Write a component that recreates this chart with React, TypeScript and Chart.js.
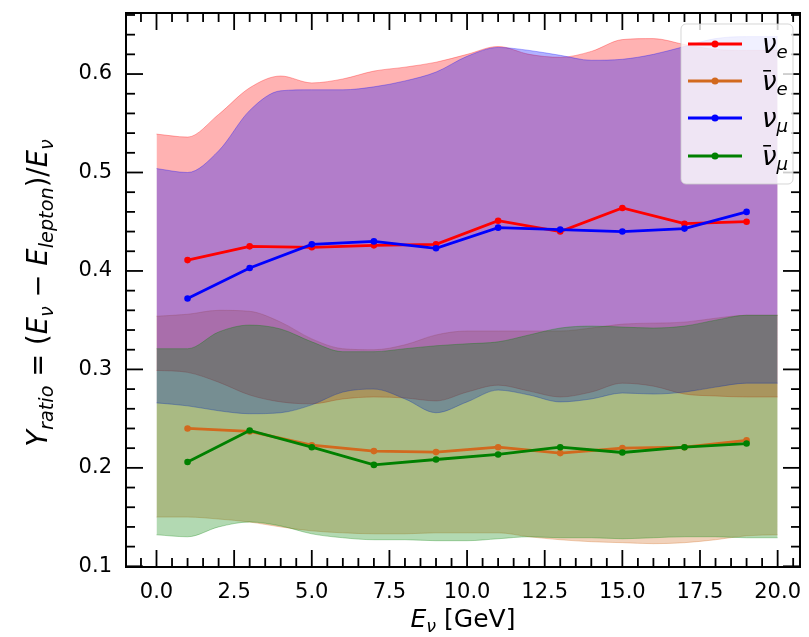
import React, { useEffect, useRef } from 'react';
import { Chart, registerables } from 'chart.js';

Chart.register(...registerables);

// Mean inelasticity per energy bin
const energies = [1, 3, 5, 7, 9, 11, 13, 15, 17, 19];
const nueRatio = [0.411, 0.425, 0.424, 0.426, 0.427, 0.451, 0.440, 0.464, 0.448, 0.450];
const nuebarRatio = [0.240, 0.237, 0.223, 0.217, 0.216, 0.221, 0.215, 0.220, 0.221, 0.228];
const numuRatio = [0.372, 0.403, 0.427, 0.430, 0.423, 0.444, 0.442, 0.440, 0.443, 0.460];
const numubarRatio = [0.206, 0.238, 0.221, 0.203, 0.2085, 0.2136, 0.221, 0.2156, 0.221, 0.2247];

// Spread bands (smoothed envelopes)
const bandEnergies = [0, 1, 2, 3, 4, 5, 6, 7, 8, 9, 10, 11, 12, 13, 14, 15, 16, 17, 18, 19, 20];
const nueUpper = [0.539, 0.536, 0.559, 0.586, 0.598, 0.591, 0.595, 0.603, 0.607, 0.612, 0.620, 0.628, 0.620, 0.617, 0.623, 0.635, 0.636, 0.630, 0.625, 0.624, 0.624];
const nueLower = [0.299, 0.297, 0.287, 0.274, 0.267, 0.265, 0.270, 0.272, 0.271, 0.268, 0.277, 0.284, 0.278, 0.272, 0.277, 0.286, 0.283, 0.275, 0.273, 0.272, 0.272];
const nuebarUpper = [0.354, 0.356, 0.360, 0.359, 0.348, 0.331, 0.321, 0.320, 0.325, 0.335, 0.339, 0.339, 0.339, 0.339, 0.342, 0.346, 0.347, 0.348, 0.352, 0.355, 0.355];
const nuebarLower = [0.150, 0.150, 0.148, 0.145, 0.140, 0.136, 0.134, 0.133, 0.133, 0.134, 0.134, 0.134, 0.130, 0.127, 0.125, 0.124, 0.123, 0.124, 0.127, 0.131, 0.132];
const numuUpper = [0.504, 0.500, 0.522, 0.563, 0.583, 0.584, 0.584, 0.587, 0.593, 0.602, 0.618, 0.627, 0.624, 0.619, 0.614, 0.615, 0.620, 0.628, 0.636, 0.638, 0.638];
const numuLower = [0.266, 0.263, 0.258, 0.255, 0.256, 0.264, 0.277, 0.280, 0.270, 0.256, 0.267, 0.279, 0.274, 0.267, 0.270, 0.276, 0.275, 0.277, 0.282, 0.286, 0.286];
const numubarUpper = [0.321, 0.321, 0.338, 0.345, 0.341, 0.328, 0.318, 0.318, 0.321, 0.324, 0.326, 0.328, 0.335, 0.342, 0.344, 0.343, 0.342, 0.344, 0.350, 0.355, 0.355];
const numubarLower = [0.132, 0.130, 0.140, 0.145, 0.141, 0.133, 0.129, 0.127, 0.127, 0.126, 0.126, 0.128, 0.130, 0.129, 0.129, 0.128, 0.129, 0.130, 0.130, 0.129, 0.129];

// Axis ticks
const xTicks = [0, 2.5, 5, 7.5, 10, 12.5, 15, 17.5, 20];
const yTicks = [0.1, 0.2, 0.3, 0.4, 0.5, 0.6];

type Run = { t: string; it?: boolean; sub?: boolean; bar?: boolean };

const FONT = '"DejaVu Sans", sans-serif';

const flavours = [
  { key: 'nue', rgb: [255, 0, 0], mean: nueRatio, upper: nueUpper, lower: nueLower,
    label: [{ t: 'ν', it: true }, { t: 'e', it: true, sub: true }] as Run[] },
  { key: 'nuebar', rgb: [210, 105, 30], mean: nuebarRatio, upper: nuebarUpper, lower: nuebarLower,
    label: [{ t: 'ν', it: true, bar: true }, { t: 'e', it: true, sub: true }] as Run[] },
  { key: 'numu', rgb: [0, 0, 255], mean: numuRatio, upper: numuUpper, lower: numuLower,
    label: [{ t: 'ν', it: true }, { t: 'μ', it: true, sub: true }] as Run[] },
  { key: 'numubar', rgb: [0, 128, 0], mean: numubarRatio, upper: numubarUpper, lower: numubarLower,
    label: [{ t: 'ν', it: true, bar: true }, { t: 'μ', it: true, sub: true }] as Run[] },
];

const yTitle: Run[] = [
  { t: 'Y', it: true }, { t: 'ratio', it: true, sub: true }, { t: ' = ' }, { t: '(' },
  { t: 'E', it: true }, { t: 'ν', it: true, sub: true }, { t: ' − ' },
  { t: 'E', it: true }, { t: 'lepton', it: true, sub: true }, { t: ')' }, { t: '/' },
  { t: 'E', it: true }, { t: 'ν', it: true, sub: true },
];
const xTitle: Run[] = [{ t: 'E', it: true }, { t: 'ν', it: true, sub: true }, { t: ' [GeV]' }];

const rgba = (c: number[], a: number) => `rgba(${c[0]},${c[1]},${c[2]},${a})`;

function runFont(r: Run, size: number) {
  const s = r.sub ? size * 0.7 : size;
  return `${r.it ? 'italic ' : ''}${s}px ${FONT}`;
}

function runsWidth(ctx: CanvasRenderingContext2D, runs: Run[], size: number) {
  let w = 0;
  for (const r of runs) {
    ctx.font = runFont(r, size);
    w += ctx.measureText(r.t).width;
  }
  return w;
}

function drawRuns(ctx: CanvasRenderingContext2D, runs: Run[], x: number, y: number, size: number) {
  let cx = x;
  ctx.textBaseline = 'alphabetic';
  ctx.textAlign = 'left';
  for (const r of runs) {
    ctx.font = runFont(r, size);
    const w = ctx.measureText(r.t).width;
    const dy = r.sub ? size * 0.2 : 0;
    ctx.fillText(r.t, cx, y + dy);
    if (r.bar) {
      ctx.save();
      ctx.lineWidth = size * 0.06;
      ctx.beginPath();
      ctx.moveTo(cx + w * 0.08, y - size * 0.74);
      ctx.lineTo(cx + w * 0.62, y - size * 0.74);
      ctx.stroke();
      ctx.restore();
    }
    cx += w;
  }
}

const MAJOR = 17;
const MINOR = 9;

const decorPlugin = {
  id: 'decor',
  afterDraw(chart: any) {
    const { ctx, chartArea: a, scales } = chart;
    const xs = scales.x;
    const ys = scales.y;
    ctx.save();
    ctx.strokeStyle = '#000';
    ctx.fillStyle = '#000';
    const seg = (x1: number, y1: number, x2: number, y2: number) => {
      ctx.beginPath();
      ctx.moveTo(x1, y1);
      ctx.lineTo(x2, y2);
      ctx.stroke();
    };
    // inward ticks on all four sides
    ctx.lineWidth = 1.8;
    for (const v of xTicks) {
      const p = xs.getPixelForValue(v);
      seg(p, a.bottom, p, a.bottom - MAJOR);
      seg(p, a.top, p, a.top + MAJOR);
    }
    for (let i = -2; i <= 41; i++) {
      const v = i * 0.5;
      if (v < xs.min || v > xs.max || i % 5 === 0) continue;
      const p = xs.getPixelForValue(v);
      seg(p, a.bottom, p, a.bottom - MINOR);
      seg(p, a.top, p, a.top + MINOR);
    }
    for (const v of yTicks) {
      const p = ys.getPixelForValue(v);
      seg(a.left, p, a.left + MAJOR, p);
      seg(a.right, p, a.right - MAJOR, p);
    }
    for (let i = 5; i <= 34; i++) {
      const v = i * 0.02;
      if (v < ys.min || v > ys.max || i % 5 === 0) continue;
      const p = ys.getPixelForValue(v);
      seg(a.left, p, a.left + MINOR, p);
      seg(a.right, p, a.right - MINOR, p);
    }
    ctx.lineWidth = 2;
    ctx.strokeRect(a.left, a.top, a.right - a.left, a.bottom - a.top);

    // axis titles
    const ySize = 27.5;
    const yw = runsWidth(ctx, yTitle, ySize);
    ctx.save();
    ctx.translate(47, 293);
    ctx.rotate(-Math.PI / 2);
    drawRuns(ctx, yTitle, -yw / 2, 0, ySize);
    ctx.restore();

    const xSize = 25;
    const xw = runsWidth(ctx, xTitle, xSize);
    drawRuns(ctx, xTitle, (a.left + a.right) / 2 - xw / 2, 627, xSize);

    // legend
    const lx = 681, ly = 24, lw = 112, lh = 160, rad = 5;
    ctx.beginPath();
    ctx.moveTo(lx + rad, ly);
    ctx.arcTo(lx + lw, ly, lx + lw, ly + lh, rad);
    ctx.arcTo(lx + lw, ly + lh, lx, ly + lh, rad);
    ctx.arcTo(lx, ly + lh, lx, ly, rad);
    ctx.arcTo(lx, ly, lx + lw, ly, rad);
    ctx.closePath();
    ctx.fillStyle = 'rgba(255,255,255,0.8)';
    ctx.fill();
    ctx.strokeStyle = 'rgba(204,204,204,0.8)';
    ctx.lineWidth = 1;
    ctx.stroke();
    const rows = [44, 81, 118, 156];
    flavours.forEach((f, i) => {
      const cy = rows[i];
      ctx.strokeStyle = rgba(f.rgb, 1);
      ctx.fillStyle = rgba(f.rgb, 1);
      ctx.lineWidth = 2.8;
      seg(688, cy, 742, cy);
      ctx.beginPath();
      ctx.arc(715, cy, 3.5, 0, Math.PI * 2);
      ctx.fill();
      ctx.fillStyle = '#000';
      ctx.strokeStyle = '#000';
      drawRuns(ctx, f.label, 762, cy + 9, 26);
    });
    ctx.restore();
  },
};

export default function App() {
  const ref = useRef<HTMLCanvasElement>(null);

  useEffect(() => {
    if (!ref.current) return;
    const datasets: any[] = [];
    // bands: drawn bottom to top in legend order (higher order = drawn earlier)
    flavours.forEach((f, i) => {
      const order = 40 - i * 10;
      const common = {
        pointRadius: 0,
        borderWidth: 1,
        borderColor: rgba(f.rgb, 0.3),
        cubicInterpolationMode: 'monotone',
        order,
      };
      datasets.push({
        ...common,
        data: bandEnergies.map((x, k) => ({ x, y: f.upper[k] })),
        backgroundColor: rgba(f.rgb, 0.3),
        fill: '+1',
      });
      datasets.push({
        ...common,
        data: bandEnergies.map((x, k) => ({ x, y: f.lower[k] })),
        fill: false,
      });
    });
    flavours.forEach((f, i) => {
      datasets.push({
        data: energies.map((x, k) => ({ x, y: f.mean[k] })),
        borderColor: rgba(f.rgb, 1),
        backgroundColor: rgba(f.rgb, 1),
        borderWidth: 2.8,
        pointRadius: 3.3,
        pointBorderWidth: 0,
        pointBackgroundColor: rgba(f.rgb, 1),
        tension: 0,
        fill: false,
        order: 4 - i,
      });
    });

    const chart = new Chart(ref.current, {
      type: 'line',
      data: { datasets },
      options: {
        animation: false,
        responsive: false,
        devicePixelRatio: 1,
        layout: { padding: { top: 13, right: 9, left: 0, bottom: 0 } },
        plugins: { legend: { display: false }, tooltip: { enabled: false } },
        scales: {
          x: {
            type: 'linear',
            min: -0.982,
            max: 20.72,
            grid: { display: false, drawTicks: false },
            border: { display: false },
            ticks: {
              color: '#000',
              font: { family: FONT, size: 21 },
              padding: 13,
              maxRotation: 0,
              autoSkip: false,
              callback: (v: any) => Number(v).toFixed(1),
            },
            afterBuildTicks: (axis: any) => {
              axis.ticks = xTicks.map((value) => ({ value }));
            },
            afterFit: (s: any) => {
              s.height = 70;
              s.paddingLeft = 0;
              s.paddingRight = 0;
            },
          },
          y: {
            type: 'linear',
            min: 0.0993,
            max: 0.662,
            grid: { display: false, drawTicks: false },
            border: { display: false },
            ticks: {
              color: '#000',
              font: { family: FONT, size: 21 },
              padding: 14,
              autoSkip: false,
              callback: (v: any) => Number(v).toFixed(1),
            },
            afterBuildTicks: (axis: any) => {
              axis.ticks = yTicks.map((value) => ({ value }));
            },
            afterFit: (s: any) => {
              s.width = 126;
              s.paddingTop = 0;
              s.paddingBottom = 0;
            },
          },
        },
      },
      plugins: [decorPlugin],
    });
    return () => chart.destroy();
  }, []);

  return (
    <div style={{ position: 'absolute', left: 0, top: 0, width: 809, height: 637, background: '#fff' }}>
      <canvas ref={ref} width={809} height={637} style={{ display: 'block' }} />
    </div>
  );
}
